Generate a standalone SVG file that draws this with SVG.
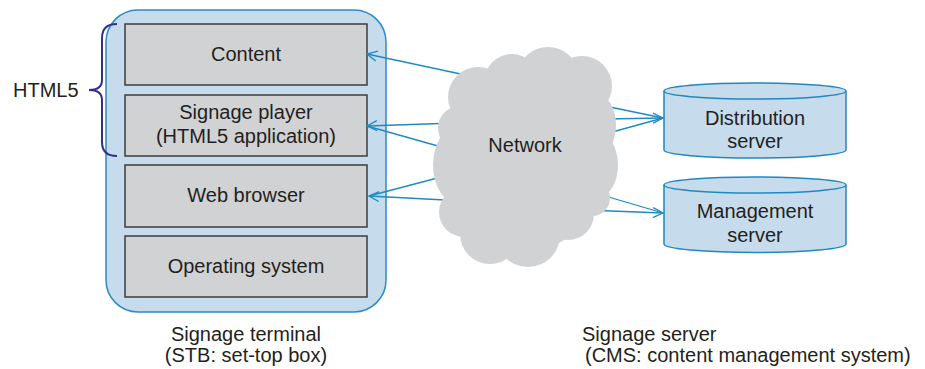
<svg xmlns="http://www.w3.org/2000/svg" width="925" height="369" viewBox="0 0 925 369">
<defs>
<style>
text{font-family:"Liberation Sans",Arial,sans-serif;font-size:20px;fill:#231f20}
.mid{text-anchor:middle}
.layer{fill:#d1d2d4;stroke:#3c3c3c;stroke-width:1.5}
.conn{stroke:#1f8ac0;stroke-width:1.3;fill:none}
.cyl{fill:#c6dbec;stroke:#2088c0;stroke-width:1.5}
.cloud{fill:#d1d2d4}
</style>
<marker id="ah" markerUnits="userSpaceOnUse" markerWidth="14" markerHeight="14" refX="11" refY="6" orient="auto">
<path d="M1,1 L11,6 L1,11" fill="none" stroke="#1f8ac0" stroke-width="1.3"/>
</marker>
</defs>
<rect width="925" height="369" fill="#fff"/>

<g id="terminal">
<rect x="106" y="10" width="280" height="302" rx="32" ry="32" fill="#c6dbec" stroke="#2b8cc4" stroke-width="1.5"/>
</g>
<g id="content">
<rect class="layer" x="125" y="24" width="242" height="61"/>
<text class="mid" x="246" y="61">Content</text>
</g>
<g id="player">
<rect class="layer" x="125" y="95" width="242" height="61"/>
<text class="mid" x="246" y="119">Signage player</text>
<text class="mid" x="246" y="143">(HTML5 application)</text>
</g>
<g id="browser">
<rect class="layer" x="125" y="165" width="242" height="62"/>
<text class="mid" x="246" y="202">Web browser</text>
</g>
<g id="os">
<rect class="layer" x="125" y="236" width="242" height="61"/>
<text class="mid" x="246" y="273">Operating system</text>
</g>

<g id="html5">
<path d="M117,24 Q102,24 102,38 L102,80 Q102,90 89,90 Q102,90 102,100 L102,142 Q102,156 117,156" fill="none" stroke="#2e3192" stroke-width="2"/>
<text x="13" y="97">HTML5</text>
</g>

<g id="connectors">
<line class="conn" x1="470" y1="76" x2="367" y2="54" marker-end="url(#ah)"/>
<line class="conn" x1="455" y1="123" x2="367" y2="126" marker-end="url(#ah)"/>
<line class="conn" x1="445" y1="148" x2="367" y2="126"/>
<line class="conn" x1="445" y1="176" x2="369" y2="196"/>
<line class="conn" x1="445" y1="200" x2="369" y2="196" marker-end="url(#ah)"/>
<line class="conn" x1="605" y1="106" x2="663" y2="118"/>
<line class="conn" x1="605" y1="119" x2="663" y2="118" marker-end="url(#ah)"/>
<line class="conn" x1="605" y1="134" x2="663" y2="118"/>
<line class="conn" x1="595" y1="193" x2="663" y2="213"/>
<line class="conn" x1="585" y1="210" x2="663" y2="213" marker-end="url(#ah)"/>
</g>

<g id="network">
<ellipse class="cloud" cx="525" cy="157" rx="80" ry="95"/>
<circle class="cloud" cx="478" cy="97" r="30"/>
<circle class="cloud" cx="512" cy="82" r="28"/>
<circle class="cloud" cx="548" cy="78" r="31"/>
<circle class="cloud" cx="582" cy="86" r="30"/>
<ellipse class="cloud" cx="598" cy="125" rx="18" ry="30"/>
<ellipse class="cloud" cx="598" cy="165" rx="20" ry="32"/>
<circle class="cloud" cx="592" cy="198" r="18"/>
<circle class="cloud" cx="568" cy="214" r="26"/>
<circle class="cloud" cx="528" cy="235" r="32"/>
<circle class="cloud" cx="490" cy="234" r="30"/>
<circle class="cloud" cx="464" cy="212" r="25"/>
<ellipse class="cloud" cx="460" cy="165" rx="27" ry="40"/>
<circle class="cloud" cx="460" cy="128" r="22"/>
<text class="mid" x="525" y="152">Network</text>
</g>

<g id="distribution">
<path class="cyl" d="M664,91 L664,150 A91,8 0 0 0 846,150 L846,91"/>
<ellipse class="cyl" cx="755" cy="91" rx="91" ry="8"/>
<text class="mid" x="755" y="125">Distribution</text>
<text class="mid" x="755" y="148">server</text>
</g>
<g id="management">
<path class="cyl" d="M664,185 L664,244 A91,8.5 0 0 0 846,244 L846,185"/>
<ellipse class="cyl" cx="755" cy="185" rx="91" ry="8"/>
<text class="mid" x="755" y="218">Management</text>
<text class="mid" x="755" y="242">server</text>
</g>

<g id="labels">
<text class="mid" x="246" y="341">Signage terminal</text>
<text class="mid" x="246" y="362">(STB: set-top box)</text>
<text x="582" y="341">Signage server</text>
<text x="585" y="362">(CMS: content management system)</text>
</g>
</svg>
